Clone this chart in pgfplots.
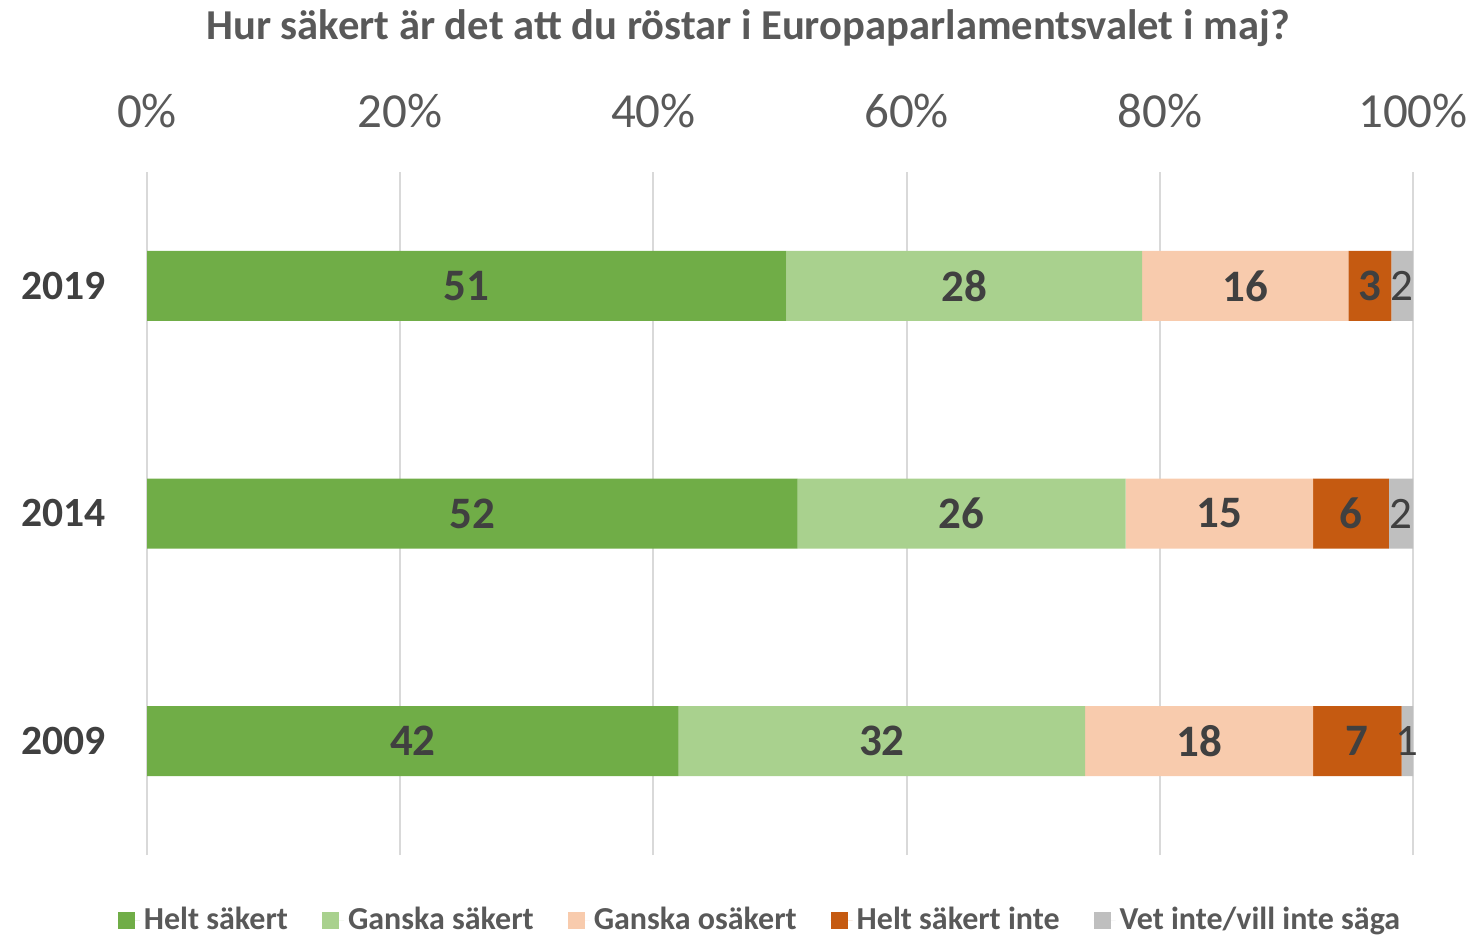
\documentclass[border=0pt]{standalone}
\usepackage{pgfplots}
\pgfplotsset{compat=1.18}
\usepackage{fontspec}
\setmainfont{Carlito}
\definecolor{cA}{HTML}{70AD47}
\definecolor{cB}{HTML}{A9D18E}
\definecolor{cC}{HTML}{F8CBAD}
\definecolor{cD}{HTML}{C55A11}
\definecolor{cE}{HTML}{BFBFBF}
\definecolor{txt}{HTML}{595959}
\definecolor{lab}{HTML}{404040}
\definecolor{grd}{HTML}{D9D9D9}
\begin{document}
\begin{tikzpicture}
\path[use as bounding box] (0,0) rectangle (738pt,468.5pt);
\node[anchor=base, font=\fontsize{21.3}{25}\selectfont\bfseries, text=txt, inner sep=0pt] at (374pt,448.5pt) {Hur säkert är det att du röstar i Europaparlamentsvalet i maj?};
\pgfplotsset{base/.style={
  at={(73.5pt,41pt)}, anchor=south west,
  scale only axis, width=633pt, height=341.5pt,
  xmin=0, xmax=100, ymin=-0.5, ymax=2.5, clip=false},
  leg/.style={legend image code/.code={\fill[##1] (0pt,-4.25pt) rectangle (8.5pt,4.25pt);\path (0pt,0pt) -- (11pt,0pt);}}
}
\begin{axis}[base, xbar stacked, bar width=35pt,
  xtick={0,20,40,60,80,100},
  xticklabel={\pgfmathprintnumber[assume math mode=true]{\tick}\%},
  xticklabel pos=upper,
  xticklabel style={anchor=base, yshift=22pt, inner sep=0pt, font=\fontsize{24.5}{28}\selectfont, text=txt},
  ytick={0,1,2}, yticklabels={2009,2014,2019},
  yticklabel style={anchor=east, xshift=-20.5pt, inner sep=0pt, font=\fontsize{20.8}{24}\selectfont\bfseries, text=lab},
  major tick length=0pt,
  axis line style={draw=none},
  xmajorgrids, ymajorgrids=false,
  grid style={grd, line width=1pt},
  legend columns=5,
  legend style={at={(axis description cs:0.485,-0.0952)}, anchor=center, draw=none, fill=none,
    font=\fontsize{16}{19}\selectfont\bfseries, text=txt,
    /tikz/every even column/.append style={column sep=15pt}},
  legend cell align=left,
]
\addplot[fill=cA, draw=none, leg] coordinates {(50.5,2) (51.4,1) (42.0,0)};
\addlegendentry{Helt säkert}
\addplot[fill=cB, draw=none, leg] coordinates {(28.1,2) (25.9,1) (32.1,0)};
\addlegendentry{Ganska säkert}
\addplot[fill=cC, draw=none, leg] coordinates {(16.3,2) (14.8,1) (18.0,0)};
\addlegendentry{Ganska osäkert}
\addplot[fill=cD, draw=none, leg] coordinates {(3.4,2) (6.0,1) (7.0,0)};
\addlegendentry{Helt säkert inte}
\addplot[fill=cE, draw=none, leg] coordinates {(1.7,2) (1.9,1) (0.9,0)};
\addlegendentry{Vet inte/vill inte säga}
\end{axis}
\begin{axis}[base, hide axis]
\addplot[only marks, mark=none, nodes near coords, point meta=explicit symbolic,
  nodes near coords style={anchor=center, inner sep=0pt, font=\fontsize{22.5}{26}\selectfont\bfseries, text=lab}]
  coordinates {
  (25.25,2) [51] (64.55,2) [28] (86.75,2) [16] (96.6,2) [3]
  (25.7,1) [52] (64.35,1) [26] (84.7,1) [15] (95.1,1) [6]
  (21.0,0) [42] (58.05,0) [32] (83.1,0) [18] (95.6,0) [7]
  };
\addplot[only marks, mark=none, nodes near coords, point meta=explicit symbolic,
  nodes near coords style={anchor=center, inner sep=0pt, font=\fontsize{22.5}{26}\selectfont, text=lab}]
  coordinates {(99.15,2) [2] (99.05,1) [2] (99.55,0) [1]};
\end{axis}
\end{tikzpicture}
\end{document}
